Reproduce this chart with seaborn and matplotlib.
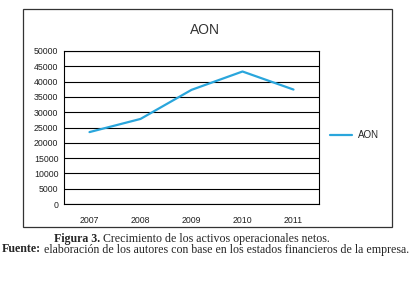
import matplotlib
matplotlib.use("Agg")
import matplotlib.pyplot as plt
import seaborn as sns
import pandas as pd
from matplotlib.patches import Rectangle

# datos
anios = ["2007", "2008", "2009", "2010", "2011"]
aon = [23500, 27800, 37300, 43300, 37400]
y_ticks = [0, 5000, 10000, 15000, 20000, 25000, 30000, 35000, 40000, 45000, 50000]

df = pd.DataFrame({"anio": anios, "AON": aon})

sns.set_style("white")
plt.rcParams["font.family"] = ["Liberation Sans", "DejaVu Sans"]

fig = plt.figure(figsize=(4.2, 2.9), dpi=100)
ax = fig.add_axes([64 / 420, 1 - 204 / 290, 255 / 420, 153 / 290])

sns.lineplot(data=df, x="anio", y="AON", ax=ax, color="#2aa6dc",
             linewidth=1.6, label="AON", sort=False)

ax.set_xlim(-0.5, 4.5)
ax.set_ylim(0, 50000)
ax.set_yticks(y_ticks)
ax.set_yticklabels([str(v) for v in y_ticks], fontsize=6.3, color="#222222")
ax.set_xticks(range(len(anios)))
ax.set_xticklabels(anios, fontsize=6.3, color="#222222")
ax.set_xticks([0.5, 1.5, 2.5, 3.5], minor=True)
ax.tick_params(axis="x", which="major", length=0, pad=8.5)
ax.tick_params(axis="x", which="minor", length=3.6, width=0.8, color="black", direction="out")
ax.tick_params(axis="y", length=0, pad=4)
ax.grid(axis="y", color="black", linewidth=0.8)
ax.set_axisbelow(True)
for s in ax.spines.values():
    s.set_color("black")
    s.set_linewidth(0.8)
ax.set_xlabel("")
ax.set_ylabel("")

leg = ax.legend(loc="center left", bbox_to_anchor=(1.01, 0.45), frameon=False,
                fontsize=7, handlelength=2.2, handletextpad=0.6)

# titulo
fig.text(205 / 420, 1 - 30 / 290, "AON", ha="center", va="center",
         fontsize=10, color="#333333")

# marco exterior
fig.patches.append(Rectangle((22.7 / 420, 1 - 227 / 290), 369 / 420, 218 / 290,
                             transform=fig.transFigure, fill=False,
                             edgecolor="#333333", linewidth=0.9))

# pie de figura: parte en negrita + resto, sobre la misma linea base
serif = ["Liberation Serif", "DejaVu Serif"]
lineas = [
    (54 / 420, 1 - 242 / 290, "Figura 3.", " Crecimiento de los activos operacionales netos."),
    (1.5 / 420, 1 - 252.5 / 290, "Fuente:",
     " elaboración de los autores con base en los estados financieros de la empresa."),
]
renderer = fig.canvas.get_renderer()
for x0, y0, negrita, resto in lineas:
    t = fig.text(x0, y0, negrita, ha="left", va="baseline",
                 fontsize=8.6, fontweight="bold", family=serif)
    x1 = fig.transFigure.inverted().transform(
        (t.get_window_extent(renderer).x1, 0))[0]
    fig.text(x1, y0, resto, ha="left", va="baseline", fontsize=8.6, family=serif)

fig.savefig("out.png", dpi=100)
